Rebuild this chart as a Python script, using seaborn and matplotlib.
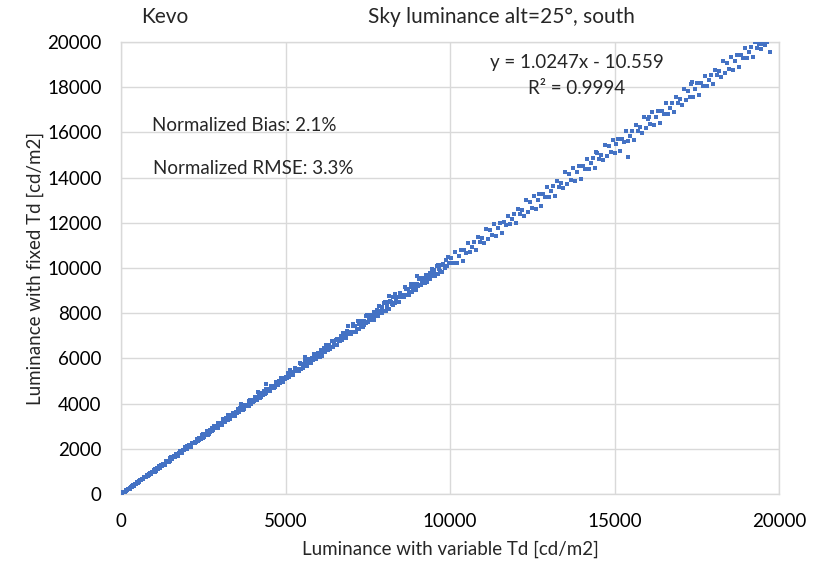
import matplotlib
matplotlib.use("Agg")
import matplotlib.pyplot as plt
import seaborn as sns
import numpy as np
import pandas as pd


# points: x = luminance with variable Td, y = with fixed Td
# low range 0-5000 (dense band), two passes
var_low = [
    0, 40, 80, 120, 160, 200, 240, 280, 320, 360, 400, 440, 480, 520, 560, 600, 640, 680, 720, 760,
    800, 840, 880, 920, 960, 1000, 1040, 1080, 1120, 1160, 1200, 1240, 1280, 1320, 1360, 1400, 1440,
    1480, 1520, 1560, 1600, 1640, 1680, 1720, 1760, 1800, 1840, 1880, 1920, 1960, 2000, 2040, 2080,
    2120, 2160, 2200, 2240, 2280, 2320, 2360, 2400, 2440, 2480, 2520, 2560, 2600, 2640, 2680, 2720,
    2760, 2800, 2840, 2880, 2920, 2960, 3000, 3040, 3080, 3120, 3160, 3200, 3240, 3280, 3320, 3360,
    3400, 3440, 3480, 3520, 3560, 3600, 3640, 3680, 3720, 3760, 3800, 3840, 3880, 3920, 3960, 4000,
    4040, 4080, 4120, 4160, 4200, 4240, 4280, 4320, 4360, 4400, 4440, 4480, 4520, 4560, 4600, 4640,
    4680, 4720, 4760, 4800, 4840, 4880, 4920, 4960,
]
fix_low = [
    5, 22, 99, 92, 157, 213, 209, 286, 312, 383, 385, 441, 494, 499, 585, 602, 652, 669, 758, 757,
    825, 842, 919, 912, 977, 1063, 984, 1121, 1122, 1243, 1180, 1261, 1334, 1279, 1440, 1417, 1482,
    1459, 1628, 1557, 1670, 1647, 1784, 1697, 1802, 1883, 1804, 1941, 1942, 2063, 2000, 2081, 2154,
    2099, 2260, 2237, 2302, 2279, 2448, 2377, 2490, 2467, 2667, 2510, 2629, 2745, 2615, 2782, 2760,
    2939, 2815, 2901, 3002, 2911, 3129, 3056, 3136, 3093, 3338, 3193, 3345, 3284, 3487, 3330, 3449,
    3565, 3435, 3602, 3580, 3759, 3635, 3721, 3822, 3731, 3949, 3876, 3956, 3913, 4158, 4013, 4165,
    4104, 4307, 4150, 4269, 4385, 4255, 4422, 4400, 4579, 4455, 4541, 4642, 4551, 4769, 4696, 4776,
    4733, 4978, 4833, 4985, 4924, 5127, 4970, 5089,
]
var_low2 = [
    20, 60, 100, 140, 180, 220, 260, 300, 340, 380, 420, 460, 500, 540, 580, 620, 660, 700, 740, 780,
    820, 860, 900, 940, 980, 1020, 1060, 1100, 1140, 1180, 1220, 1260, 1300, 1340, 1380, 1420, 1460,
    1500, 1540, 1580, 1620, 1660, 1700, 1740, 1780, 1820, 1860, 1900, 1940, 1980, 2020, 2060, 2100,
    2140, 2180, 2220, 2260, 2300, 2340, 2380, 2420, 2460, 2500, 2540, 2580, 2620, 2660, 2700, 2740,
    2780, 2820, 2860, 2900, 2940, 2980, 3020, 3060, 3100, 3140, 3180, 3220, 3260, 3300, 3340, 3380,
    3420, 3460, 3500, 3540, 3580, 3620, 3660, 3700, 3740, 3780, 3820, 3860, 3900, 3940, 3980, 4020,
    4060, 4100, 4140, 4180, 4220, 4260, 4300, 4340, 4380, 4420, 4460, 4500, 4540, 4580, 4620, 4660,
    4700, 4740, 4780, 4820, 4860, 4900, 4940, 4980,
]
fix_low2 = [
    3, 81, 74, 139, 171, 236, 232, 309, 338, 364, 444, 455, 511, 516, 602, 628, 645, 734, 739, 804,
    818, 901, 894, 959, 991, 1091, 1012, 1149, 1158, 1159, 1304, 1265, 1346, 1291, 1452, 1453, 1430,
    1599, 1544, 1649, 1618, 1771, 1684, 1789, 1806, 1911, 1832, 1969, 1978, 1979, 2124, 2085, 2166,
    2111, 2272, 2273, 2250, 2419, 2364, 2469, 2438, 2591, 2498, 2623, 2625, 2780, 2644, 2817, 2798,
    2794, 3000, 2903, 3007, 2922, 3134, 3100, 3063, 3302, 3181, 3324, 3254, 3481, 3318, 3443, 3445,
    3600, 3464, 3637, 3618, 3614, 3820, 3723, 3827, 3742, 3954, 3920, 3883, 4122, 4001, 4144, 4074,
    4301, 4138, 4263, 4265, 4420, 4284, 4457, 4438, 4434, 4640, 4543, 4647, 4562, 4774, 4740, 4703,
    4942, 4821, 4964, 4894, 5121, 4958, 5083, 5085,
]

# middle range 5000-10000
var_mid = [
    5000, 5040, 5080, 5120, 5160, 5200, 5240, 5280, 5320, 5360, 5400, 5440, 5480, 5520, 5560, 5600,
    5640, 5680, 5720, 5760, 5800, 5840, 5880, 5920, 5960, 6000, 6040, 6080, 6120, 6160, 6200, 6240,
    6280, 6320, 6360, 6400, 6440, 6480, 6520, 6560, 6600, 6640, 6680, 6720, 6760, 6800, 6840, 6880,
    6920, 6960, 7000, 7040, 7080, 7120, 7160, 7200, 7240, 7280, 7320, 7360, 7400, 7440, 7480, 7520,
    7560, 7600, 7640, 7680, 7720, 7760, 7800, 7840, 7880, 7920, 7960, 8000, 8040, 8080, 8120, 8160,
    8200, 8240, 8280, 8320, 8360, 8400, 8440, 8480, 8520, 8560, 8600, 8640, 8680, 8720, 8760, 8800,
    8840, 8880, 8920, 8960, 9000, 9040, 9080, 9120, 9160, 9200, 9240, 9280, 9320, 9360, 9400, 9440,
    9480, 9520, 9560, 9600, 9640, 9680, 9720, 9760, 9800, 9840, 9880, 9920, 9960,
]
fix_mid = [
    5180, 5130, 5370, 5170, 5280, 5410, 5260, 5560, 5430, 5530, 5450, 5790, 5550, 5760, 5650, 5930,
    5680, 5830, 5990, 5780, 6000, 5950, 6190, 5990, 6100, 6230, 6080, 6380, 6250, 6350, 6270, 6610,
    6370, 6580, 6470, 6750, 6500, 6650, 6810, 6600, 6820, 6770, 7010, 6810, 6920, 7050, 6900, 7200,
    7070, 7170, 7060, 7510, 7180, 7440, 7280, 7640, 7290, 7480, 7670, 7370, 7670, 7580, 7900, 7610,
    7740, 7900, 7680, 8070, 7890, 8000, 7880, 8330, 8000, 8260, 8100, 8460, 8110, 8300, 8490, 8190,
    8490, 8400, 8720, 8430, 8560, 8720, 8500, 8890, 8710, 8820, 8700, 9150, 8820, 9080, 8920, 9280,
    8930, 9120, 9310, 9010, 9310, 9220, 9540, 9250, 9380, 9540, 9320, 9710, 9530, 9640, 9520, 9970,
    9640, 9900, 9740, 10100, 9750, 9940, 10130, 9830, 10130, 10040, 10360, 10070, 10200,
]
var_mid2 = [
    5060, 5140, 5220, 5300, 5380, 5460, 5540, 5620, 5700, 5780, 5860, 5940, 6020, 6100, 6180, 6260,
    6340, 6420, 6500, 6580, 6660, 6740, 6820, 6900, 6980, 7060, 7140, 7220, 7300, 7380, 7460, 7540,
    7620, 7700, 7780, 7860, 7940, 8020, 8100, 8180, 8260, 8340, 8420, 8500, 8580, 8660, 8740, 8820,
    8900, 8980, 9060, 9140, 9220, 9300, 9380, 9460, 9540, 9620, 9700, 9780, 9860, 9940,
]
fix_mid2 = [
    5120, 5480, 5260, 5470, 5490, 5740, 5560, 5840, 5830, 5850, 6170, 6050, 6230, 6120, 6460, 6430,
    6400, 6770, 6610, 6840, 6760, 7120, 6900, 7110, 7130, 7440, 7160, 7510, 7470, 7460, 7880, 7680,
    7890, 7720, 8140, 8080, 8000, 8480, 8240, 8520, 8380, 8840, 8510, 8760, 8770, 9080, 8800, 9150,
    9110, 9100, 9520, 9320, 9530, 9360, 9780, 9720, 9640, 10120, 9880, 10160, 10020, 10480,
]

# high range 10000-20000 (sparser)
var_high = [
    10020, 10080, 10140, 10200, 10260, 10320, 10380, 10440, 10500, 10560, 10620, 10680, 10740, 10800,
    10860, 10920, 10980, 11040, 11100, 11160, 11220, 11280, 11340, 11400, 11460, 11520, 11580, 11640,
    11700, 11760, 11820, 11880, 11940, 12000, 12060, 12120, 12180, 12240, 12300, 12360, 12420, 12480,
    12540, 12600, 12660, 12720, 12780, 12840, 12900, 12960, 13020, 13080, 13140, 13200, 13260, 13320,
    13380, 13440, 13500, 13560, 13620, 13680, 13740, 13800, 13860, 13920, 13980, 14040, 14100, 14160,
    14220, 14280, 14340, 14400, 14460, 14520, 14580, 14640, 14700, 14760, 14820, 14880, 14940, 15000,
    15060, 15120, 15180, 15240, 15300, 15360, 15420, 15480, 15540, 15600, 15660, 15720, 15780, 15840,
    15900, 15960, 16020, 16080, 16140, 16200, 16260, 16320, 16380, 16440, 16500, 16560, 16620, 16680,
    16740, 16800, 16860, 16920, 16980, 17040, 17100, 17160, 17220, 17280, 17340, 17400, 17460, 17520,
    17580, 17640, 17700, 17760, 17820, 17880, 17940, 18000, 18060, 18120, 18180, 18240, 18300, 18360,
    18420, 18480, 18540, 18600, 18660, 18720, 18780, 18840, 18900, 18960, 19020, 19080, 19140, 19200,
    19260, 19320, 19380, 19440, 19500, 19560, 19620, 19726,
]
fix_high = [
    10435, 10220, 10700, 10200, 10540, 10780, 10310, 10800, 10680, 11090, 10700, 10940, 11140, 10780,
    11370, 11150, 11310, 11100, 11720, 11290, 11670, 11450, 11930, 11430, 11770, 12010, 11540, 12030,
    11910, 12320, 11930, 12170, 12370, 11970, 12630, 12370, 12550, 12300, 13000, 12500, 12920, 12660,
    13200, 12620, 13010, 13270, 12730, 13270, 13130, 13590, 13140, 13400, 13620, 13200, 13860, 13600,
    13780, 13530, 14230, 13730, 14150, 13890, 14430, 13850, 14240, 14500, 13960, 14500, 14360, 14820,
    14370, 14630, 14850, 14430, 15090, 14830, 15010, 14760, 15460, 14960, 15380, 15120, 15660, 15090,
    15470, 15730, 15190, 15730, 15590, 16050, 15600, 15860, 16080, 15660, 16320, 16060, 16240, 15990,
    16690, 16190, 16610, 16350, 16890, 16310, 16700, 16960, 16420, 16960, 16820, 17280, 16830, 17090,
    17310, 16890, 17550, 17290, 17470, 17220, 17920, 17420, 17840, 17580, 18120, 17550, 17930, 18190,
    17650, 18190, 18050, 18510, 18060, 18320, 18540, 18120, 18780, 18520, 18700, 18450, 19150, 18650,
    19070, 18810, 19350, 18770, 19160, 19420, 18880, 19420, 19280, 19740, 19290, 19550, 19770, 19350,
    20010, 19750, 19930, 19680, 19900, 19850, 19990, 19558,
]

# stray points off the main band
var_out = [3650, 4150, 4420, 5600, 6900, 8150, 9000, 14450, 15410, 16050, 17350]
fix_out = [3980, 4520, 4850, 6050, 7450, 8750, 9650, 15150, 14910, 16700, 18250]

x_ticks = [0, 5000, 10000, 15000, 20000]
y_ticks = [0, 2000, 4000, 6000, 8000, 10000, 12000, 14000, 16000, 18000, 20000]

df = pd.DataFrame({
    "variable": var_low + var_low2 + var_mid + var_mid2 + var_high + var_out,
    "fixed": fix_low + fix_low2 + fix_mid + fix_mid2 + fix_high + fix_out,
})

sns.set_style("white")
plt.rcParams['font.family'] = ['Lato', 'DejaVu Sans']

fig = plt.figure(figsize=(8.22, 5.66), dpi=100)
ax = fig.add_axes([0.1472, 0.1272, 0.8005, 0.7986])

sns.scatterplot(x="variable", y="fixed", data=df, ax=ax, color="#4472C4",
                s=5.5, marker="s", linewidth=0, zorder=3)

ax.set_xlim(0, 20000)
ax.set_ylim(0, 20000)
ax.set_xticks(x_ticks)
ax.set_yticks(y_ticks)
ax.grid(True, color="#D9D9D9", linewidth=1)
for sp in ax.spines.values():
    sp.set_color("#D9D9D9")
    sp.set_linewidth(1)
ax.tick_params(axis='both', length=0, labelsize=13.5, colors="#000000")
ax.tick_params(axis='x', pad=14)
ax.tick_params(axis='y', pad=14)

ax.set_xlabel("Luminance with variable Td [cd/m2]", fontsize=13.5, labelpad=7)
ax.set_ylabel("Luminance with fixed Td [cd/m2]", fontsize=13.5, labelpad=2)

# titles and annotations
fig.text(0.2007, 0.970, "Kevo", fontsize=15, ha='center', va='center')
fig.text(0.610, 0.970, "Sky luminance alt=25°, south", fontsize=15, ha='center', va='center')
ax.text(0.693, 0.955, "y = 1.0247x - 10.559", transform=ax.transAxes, fontsize=13.5, ha='center', va='center')
ax.text(0.693, 0.897, "R² = 0.9994", transform=ax.transAxes, fontsize=13.5, ha='center', va='center')
ax.text(0.047, 0.815, "Normalized Bias: 2.1%", transform=ax.transAxes, fontsize=13.5, ha='left', va='center')
ax.text(0.049, 0.72, "Normalized RMSE: 3.3%", transform=ax.transAxes, fontsize=13.5, ha='left', va='center')

fig.savefig("out.png", dpi=100)
